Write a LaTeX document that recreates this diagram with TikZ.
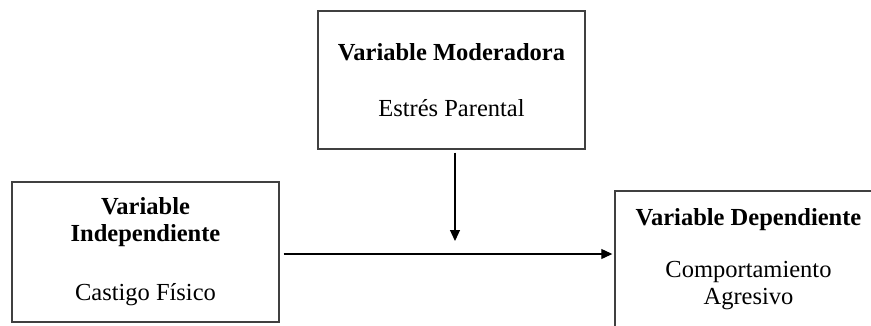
\documentclass[tikz,border=0pt]{standalone}
\usepackage{fontspec}
\setmainfont{Liberation Serif}
\usetikzlibrary{positioning,arrows.meta}

\begin{document}
\begin{tikzpicture}[
    x=1pt, y=-1pt,
    >={Triangle[length=11pt,width=10pt]},
    thick,
    varbox/.style={draw=black!75, line width=1.4pt, minimum width=267pt,
        align=center, inner sep=0pt, font=\fontsize{24.5}{27}\selectfont},
    flow/.style={->, draw, line width=1.1pt}
]
\useasboundingbox (0,0) rectangle (871,325);

% ---------------- Boxes ----------------
\node[varbox, minimum height=138pt] (mod) at (451.5,80) {
    \textbf{Variable Moderadora}\\[29pt]
    Estrés Parental};
\node[varbox, minimum height=140pt] (indep) at (145.5,252) {
    \textbf{Variable}\\
    \textbf{Independiente}\\[32pt]
    Castigo Físico};
\node[varbox, minimum height=136pt] (dep) at (748.5,259) {
    \textbf{Variable Dependiente}\\[25pt]
    Comportamiento\\
    Agresivo};

% ---------------- Connectors ----------------
\coordinate (join) at (455,254);
\draw[flow, shorten <=3pt, shorten >=13pt] (mod.south -| join) -- (join);
\draw[flow, shorten <=4pt, shorten >=2pt] (indep.east |- join) -- (dep.west |- join);

\end{tikzpicture}
\end{document}
